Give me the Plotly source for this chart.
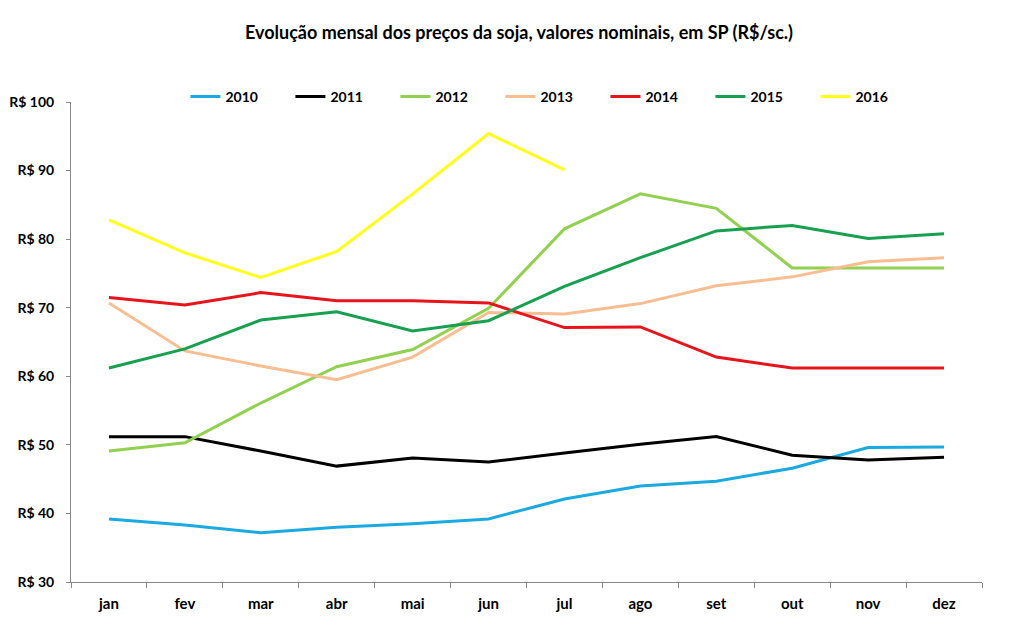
import plotly.graph_objects as go

months = ["jan", "fev", "mar", "abr", "mai", "jun", "jul", "ago", "set", "out", "nov", "dez"]

y2010 = [39.2, 38.3, 37.2, 38.0, 38.5, 39.2, 42.1, 44.0, 44.7, 46.6, 49.6, 49.7]
y2011 = [51.2, 51.2, 49.1, 46.9, 48.1, 47.5, 48.8, 50.1, 51.2, 48.5, 47.8, 48.2]
y2012 = [49.1, 50.3, 56.1, 61.4, 63.9, 69.9, 81.5, 86.6, 84.5, 75.8, 75.8, 75.8]
y2013 = [70.7, 63.7, 61.5, 59.5, 62.8, 69.3, 69.1, 70.6, 73.2, 74.5, 76.7, 77.3]
y2014 = [71.5, 70.4, 72.2, 71.0, 71.0, 70.7, 67.1, 67.2, 62.8, 61.2, 61.2, 61.2]
y2015 = [61.2, 64.0, 68.2, 69.4, 66.6, 68.1, 73.1, 77.3, 81.2, 82.0, 80.1, 80.8]
y2016 = [82.8, 78.0, 74.4, 78.2, 86.6, 95.4, 90.1]

series = [
    ("2010", y2010, "#1BA9E1"),
    ("2011", y2011, "#000000"),
    ("2012", y2012, "#92D050"),
    ("2013", y2013, "#F8BE92"),
    ("2014", y2014, "#E8141B"),
    ("2015", y2015, "#17A050"),
    ("2016", y2016, "#FFFF1A"),
]

yticks = [30, 40, 50, 60, 70, 80, 90, 100]
yticklabels = ["R$ " + str(v) for v in yticks]

fig = go.Figure()
for name, vals, color in series:
    fig.add_trace(go.Scatter(
        x=months[:len(vals)], y=vals, name="<b>" + name + "</b>", mode="lines",
        line=dict(color=color, width=3),
    ))

fig.update_layout(
    width=1012, height=631,
    margin=dict(l=63, r=38, t=94, b=57),
    paper_bgcolor="white", plot_bgcolor="white",
    font=dict(family="Lato", size=14, color="black"),
    title=dict(
        text="<b>Evolução mensal dos preços da soja, valores nominais, em SP (R$/sc.)</b>",
        x=511 / 1012, xref="container", xanchor="center",
        y=1 - 25 / 631, yref="container", yanchor="middle",
        font=dict(family="Lato", size=18, color="black"),
    ),
    legend=dict(
        orientation="h", x=0.529, xanchor="center", y=1.0104, yanchor="middle",
        font=dict(family="Lato", size=14, color="black"),
        itemwidth=30, entrywidth=60, entrywidthmode="pixels",
        bgcolor="rgba(0,0,0,0)",
    ),
    showlegend=True,
)
fig.update_xaxes(
    type="category", categoryorder="array", categoryarray=months,
    range=[-0.5, 11.5], automargin=False,
    showgrid=False, showline=True, linecolor="#888888", linewidth=1,
    ticks="outside", tickson="boundaries", ticklen=5, tickcolor="#888888",
    ticklabelstandoff=8,
    tickfont=dict(family="Lato", size=15, color="black", weight="bold"),
)
fig.update_yaxes(
    range=[30, 100], tickvals=yticks, ticktext=["<b>" + t + "</b>" for t in yticklabels],
    automargin=False,
    showgrid=False, zeroline=False, showline=True, linecolor="#888888", linewidth=1,
    ticks="outside", ticklen=4, tickcolor="#888888",
    ticklabelstandoff=9,
    tickfont=dict(family="Lato", size=14, color="black"),
)

fig.write_html("out.html")
